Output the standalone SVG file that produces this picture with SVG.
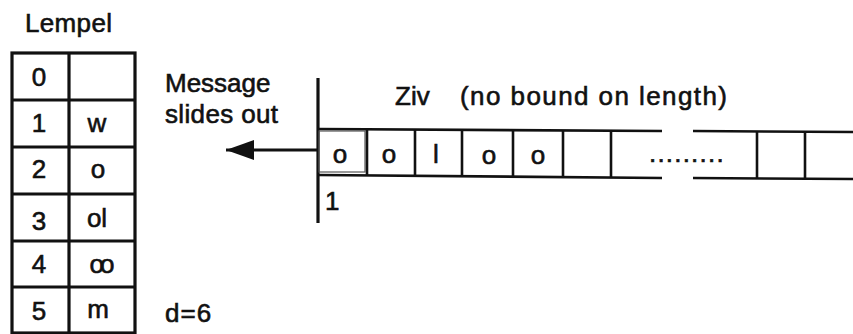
<svg xmlns="http://www.w3.org/2000/svg" width="853" height="334" viewBox="0 0 853 334">
<style>
text{font-family:"Liberation Sans",Arial,sans-serif;font-size:26px;fill:#111;stroke:#111;stroke-width:0.6}
.c{text-anchor:middle}
.thick{stroke:#111;stroke-width:3.2;fill:none}
.mid{stroke:#111;stroke-width:2.6;fill:none}
.thin{stroke:#555;stroke-width:1.2;fill:none}
</style>
<defs>
<marker id="ah" markerWidth="30" markerHeight="20" refX="28" refY="10" orient="auto" markerUnits="userSpaceOnUse" viewBox="0 0 30 20">
<path d="M0,0 L28,10 L0,20 Z" fill="#111"/>
</marker>
</defs>
<rect width="853" height="334" fill="#fff"/>

<g id="lempel">
<text x="25" y="32" textLength="87" lengthAdjust="spacing">Lempel</text>
<rect class="thick" x="12" y="53" width="123" height="280"/>
<line class="thick" x1="69" y1="53" x2="69" y2="333"/>
<line class="thick" x1="12" y1="100" x2="135" y2="100"/>
<line class="thick" x1="12" y1="147" x2="135" y2="147"/>
<line class="thick" x1="12" y1="194" x2="135" y2="194"/>
<line class="thick" x1="12" y1="241" x2="135" y2="241"/>
<line class="thick" x1="12" y1="287" x2="135" y2="287"/>
<text class="c" x="39" y="86">0</text>
<text class="c" x="39" y="132">1</text>
<text class="c" x="97" y="132">w</text>
<text class="c" x="39" y="178">2</text>
<text class="c" x="98" y="178">o</text>
<text class="c" x="39" y="230">3</text>
<text class="c" x="97" y="227">ol</text>
<text class="c" x="39" y="273">4</text>
<text class="c" x="100" y="273" letter-spacing="-4">oo</text>
<text class="c" x="39" y="320">5</text>
<text class="c" x="98" y="318">m</text>
</g>

<g id="message-label">
<text x="165" y="92">Message</text>
<text x="165" y="123" textLength="113" lengthAdjust="spacing">slides out</text>
</g>

<g id="d-label">
<text x="165" y="322" letter-spacing="1">d=6</text>
</g>

<g id="ziv">
<text x="395" y="105">Ziv</text>
<text x="460" y="105" textLength="267" lengthAdjust="spacing">(no bound on length)</text>
<line class="thick" x1="318" y1="78" x2="318" y2="223"/>
<line class="mid" x1="318" y1="129" x2="662" y2="131"/>
<line class="mid" x1="318" y1="175" x2="662" y2="178"/>
<line class="mid" x1="693" y1="131" x2="853" y2="132"/>
<line class="mid" x1="693" y1="178" x2="853" y2="179"/>
<rect class="thin" x="319" y="131" width="46" height="41"/>
<line class="mid" x1="367" y1="129" x2="367" y2="175"/>
<line class="mid" x1="415" y1="130" x2="415" y2="176"/>
<line class="mid" x1="462" y1="130" x2="462" y2="176"/>
<line class="mid" x1="513" y1="130" x2="513" y2="177"/>
<line class="mid" x1="563" y1="130" x2="563" y2="177"/>
<line class="mid" x1="611" y1="131" x2="611" y2="178"/>
<line class="mid" x1="757" y1="131" x2="757" y2="179"/>
<line class="mid" x1="805" y1="131" x2="805" y2="179"/>
<text class="c" x="340" y="163">o</text>
<text class="c" x="389" y="163">o</text>
<text class="c" x="436" y="163">l</text>
<text class="c" x="489" y="164">o</text>
<text class="c" x="538" y="164">o</text>
<text x="649" y="162" letter-spacing="1.2" font-size="20" stroke-width="0.8">.........</text>
<text x="325" y="210">1</text>
</g>

<g id="connectors">
<line class="thick" x1="318" y1="150" x2="226" y2="150" marker-end="url(#ah)"/>
</g>
</svg>
